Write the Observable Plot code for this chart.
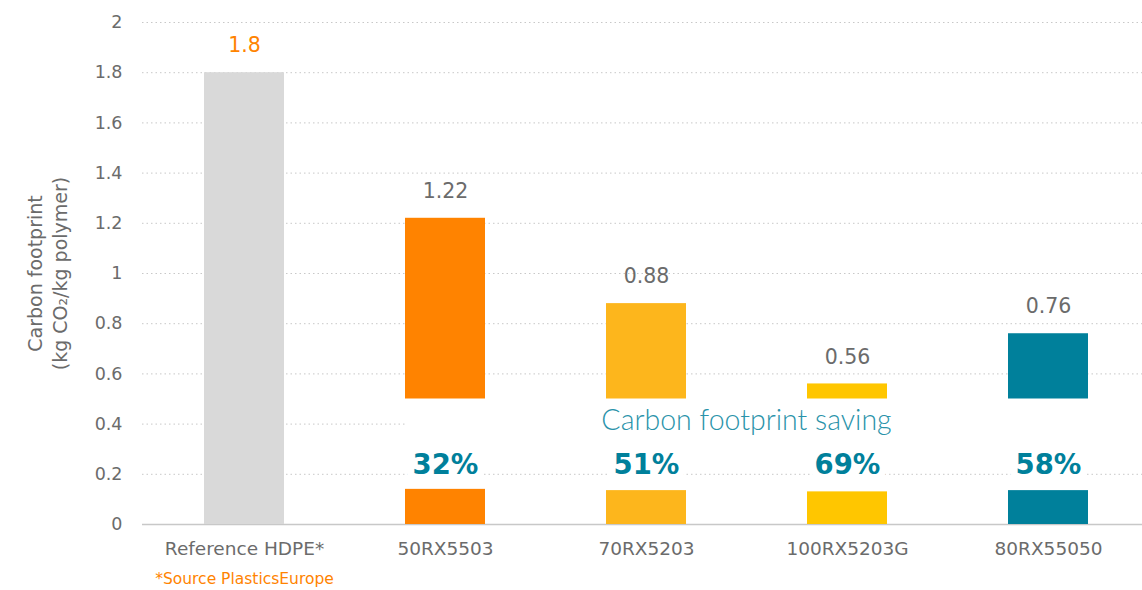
<!DOCTYPE html>
<html>
<head>
<meta charset="utf-8">
<script src="https://cdn.jsdelivr.net/npm/d3@7"></script>
<script src="https://cdn.jsdelivr.net/npm/@observablehq/plot@0.6"></script>
<style>
  html, body { margin: 0; padding: 0; background: #fff; overflow: hidden; }
  #chart svg { display: block; }
</style>
</head>
<body>
<div id="chart"></div>
<script>
const categories = ["Reference HDPE*", "50RX5503", "70RX5203", "100RX5203G", "80RX55050"];
const values = [1.8, 1.22, 0.88, 0.56, 0.76];
const valueLabels = ["1.8", "1.22", "0.88", "0.56", "0.76"];
const barBase = [0, 0.5, 0.5, 0.5, 0.5];
const stubTop = [null, 0.14, 0.135, 0.13, 0.135];
const savings = [null, "32%", "51%", "69%", "58%"];
const colors = ["#d9d9d9", "#ff8300", "#fdb61c", "#ffc600", "#00809b"];
const labelColors = ["#ff8300", "#6b6b6b", "#6b6b6b", "#6b6b6b", "#6b6b6b"];
const breakRange = [0.3, 0.5];
const yTicks = [0, 0.2, 0.4, 0.6, 0.8, 1, 1.2, 1.4, 1.6, 1.8, 2];
const yTickLabels = ["0", "0.2", "0.4", "0.6", "0.8", "1", "1.2", "1.4", "1.6", "1.8", "2"];

const rows = categories.map((c, i) => ({
  cat: c, value: values[i], label: valueLabels[i], base: barBase[i],
  stub: stubTop[i], saving: savings[i], color: colors[i], labelColor: labelColors[i]
}));
const stubRows = rows.filter(d => d.stub != null);

const W = 1142, H = 590;
const chart = Plot.plot({
  width: W,
  height: H,
  marginLeft: 142,
  marginRight: 0,
  marginTop: 22,
  marginBottom: 66,
  style: {fontFamily: "DejaVu Sans", fontSize: "16px", background: "#fff"},
  x: {domain: categories, range: [142, 1151], paddingInner: 0.6, paddingOuter: 0.3},
  y: {domain: [0, 2]},
  marks: [
    Plot.ruleY(yTicks.filter(d => d > 0), {stroke: "#c8c8c8", strokeDasharray: "1.5,3", strokeWidth: 1}),
    Plot.rectY(stubRows, {x: "cat", y1: () => breakRange[0], y2: () => breakRange[1], fill: "white", insetRight: -121}),
    Plot.ruleY([0], {stroke: "#c8c8c8", strokeWidth: 1.5}),
    Plot.rectY(rows, {x: "cat", y1: "base", y2: "value", fill: "color"}),
    Plot.rectY(stubRows, {x: "cat", y1: 0, y2: "stub", fill: "color"}),
    Plot.text(rows, {x: "cat", y: "value", text: "label", fill: "labelColor", dy: -27, lineAnchor: "middle", fontSize: 20.5}),
    Plot.text(stubRows, {x: "cat", text: "saving", frameAnchor: "bottom", dy: -59, lineAnchor: "middle",
      fill: "#00809b", fontSize: 27.5, fontWeight: 600, stroke: "white", strokeWidth: 14}),
    Plot.text(["Carbon footprint saving"], {x: () => categories[2], text: d => d, dx: 100, frameAnchor: "bottom", dy: -104,
      lineAnchor: "middle", fill: "#2a93aa", fontSize: 28.5, fontFamily: "Lato", fontWeight: 300}),
    Plot.axisY({ticks: yTicks, tickFormat: (d, i) => yTickLabels[i], tickSize: 0, tickPadding: 20, fill: "#6b6b6b", fontSize: 17.5, label: null}),
    Plot.axisX({tickSize: 0, tickPadding: 17, fill: "#6b6b6b", fontSize: 18.5, label: null}),
    Plot.text(["*Source PlasticsEurope"], {x: () => categories[0], text: d => d, frameAnchor: "bottom", dy: 55,
      lineAnchor: "middle", fill: "#ff8300", fontSize: 15.5}),
    Plot.text(["Carbon footprint\n(kg CO\u2082/kg polymer)"], {text: d => d, frameAnchor: "left", dx: -96, dy: 0,
      rotate: -90, lineAnchor: "middle", textAnchor: "middle", fill: "#6b6b6b", fontSize: 19, lineHeight: 1.32})
  ]
});
document.getElementById("chart").append(chart);
</script>
</body>
</html>
